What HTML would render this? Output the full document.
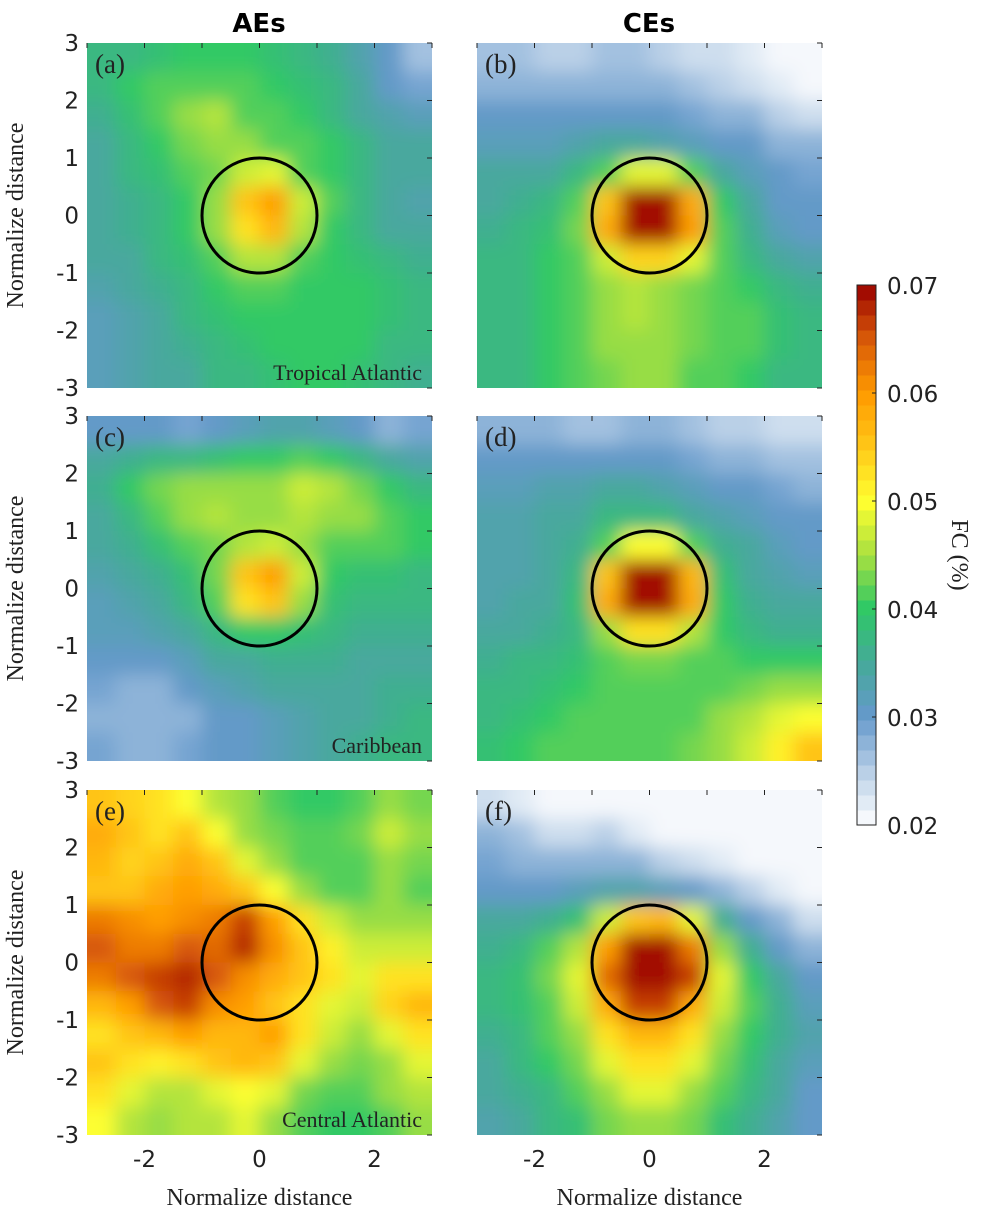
<!DOCTYPE html>
<html><head><meta charset="utf-8"><style>
body{margin:0;background:#fff;}
svg{display:block;}
.tk{font-family:"DejaVu Sans","Liberation Sans",sans-serif;font-size:23px;fill:#222;}
.sr{font-family:"Liberation Serif","DejaVu Serif",serif;fill:#222;}
</style></head><body>
<svg id="fig" width="984" height="1218" xmlns="http://www.w3.org/2000/svg">
<defs><clipPath id="cp"><rect x="0" y="0" width="345" height="345"/></clipPath>
<filter id="bl" x="-20%" y="-20%" width="140%" height="140%"><feGaussianBlur stdDeviation="9"/></filter></defs>
<text x="259" y="32" text-anchor="middle" style="font-family:'DejaVu Sans',sans-serif;font-weight:bold;font-size:26px">AEs</text>
<text x="649" y="32" text-anchor="middle" style="font-family:'DejaVu Sans',sans-serif;font-weight:bold;font-size:26px">CEs</text>
<g id="panels"></g>
<g id="cbar"></g>
</svg>
<script>
const ticks=[-3,-2,-1,0,1,2,3];
const xTickLabels=["-2","0","2"];
const cbTicks=[0.02,0.03,0.04,0.05,0.06,0.07];
const panelLabels=["(a)","(b)","(c)","(d)","(e)","(f)"];
const regionLabels=["Tropical Atlantic","","Caribbean","","Central Atlantic",""];
// values in units of 0.001 FC, 12x12 grid, rows from y=+3 to y=-3
const panelA=[
[38,38,39,40,40,40,39,38,36,33,30,26],[37,40,42,42,41,41,40,39,37,34,31,29],[36,39,41,44,46,42,41,40,38,35,33,32],[35,38,40,43,45,44,42,41,40,37,35,34],
[35,37,39,41,43,47,48,42,40,38,35,34],[35,36,38,40,45,55,59,47,41,38,34,33],[34,36,38,40,45,53,57,46,40,38,35,34],[34,35,37,39,42,46,46,42,40,39,37,36],
[33,34,36,38,40,41,41,40,40,40,39,38],[32,33,35,37,39,40,40,40,40,40,39,38],[32,33,34,36,38,39,40,40,40,40,38,37],[32,33,34,35,37,38,39,40,40,39,37,36]];
const panelB=[
[26,26,25,25,26,26,25,24,23,22,21,20],[28,28,27,27,28,28,27,26,25,24,22,21],[30,30,30,30,31,31,30,29,28,27,25,24],[32,32,32,33,34,34,33,32,31,30,28,27],
[34,34,35,37,41,48,48,41,35,32,30,29],[35,36,38,42,56,72,74,58,40,34,31,30],[36,37,39,43,58,74,74,60,41,36,32,31],[37,38,40,42,47,54,54,48,42,38,35,33],
[38,38,40,42,44,46,45,43,42,40,38,36],[38,38,40,42,44,46,45,43,42,41,39,38],[38,38,40,42,44,45,44,43,42,41,39,38],[37,38,40,42,43,44,44,42,41,40,38,37]];
const panelC=[
[31,31,30,29,31,32,33,33,32,31,28,29],[34,36,38,38,39,40,40,41,40,38,35,33],[36,40,43,45,44,44,45,47,46,43,40,38],[35,38,42,45,46,44,45,46,45,44,42,40],
[34,36,39,42,43,46,47,44,42,41,41,40],[33,34,36,39,43,55,60,47,40,39,39,38],[32,33,35,37,42,53,56,45,39,37,37,37],[32,32,33,35,38,40,40,39,37,36,36,36],
[31,30,30,32,34,35,36,36,36,35,35,35],[29,28,28,30,32,33,34,35,35,35,36,36],[28,27,27,28,30,31,32,33,34,35,36,37],[29,28,28,29,30,31,32,33,35,36,37,38]];
const panelD=[
[28,28,27,26,26,27,27,26,25,25,24,24],[30,30,30,30,30,30,30,29,28,27,26,26],[32,32,33,33,34,34,33,32,31,30,29,28],[33,33,34,35,37,38,37,35,33,32,31,30],
[33,33,34,36,41,50,50,41,36,34,32,31],[33,33,34,38,56,72,74,57,39,35,33,32],[33,34,35,39,58,74,74,58,40,36,34,34],[34,35,36,38,45,52,52,46,40,37,36,36],
[36,37,38,39,41,43,43,42,41,40,40,40],[37,38,39,40,41,42,42,42,42,43,44,45],[38,39,40,41,41,42,42,42,44,46,48,50],[39,40,41,41,42,42,42,43,45,47,51,55]];
const panelE=[
[56,54,52,50,46,44,42,40,40,42,45,43],[58,55,53,55,50,45,43,41,41,43,47,44],[57,54,56,58,55,48,45,42,41,42,45,43],[56,56,58,60,58,55,50,45,42,42,44,42],
[63,61,60,61,62,66,59,52,47,45,45,44],[65,63,63,65,64,68,61,56,51,47,47,47],[63,65,67,68,65,61,58,56,53,49,52,53],[57,59,65,66,61,59,56,52,49,47,54,57],
[53,55,57,59,57,57,59,52,47,45,49,53],[55,53,51,53,55,57,56,49,45,43,45,48],[53,48,46,46,48,50,48,43,42,42,45,46],[50,46,44,46,46,48,45,42,40,40,42,45]];
const panelF=[
[24,22,21,21,20,20,20,20,20,20,20,20],[27,26,24,24,25,22,21,20,20,20,20,20],[29,28,27,27,28,27,25,24,22,21,20,20],[31,31,31,32,33,33,32,30,28,25,22,21],
[34,34,36,39,47,55,57,48,36,31,27,24],[36,38,41,46,60,74,74,63,45,36,31,28],[37,39,43,49,64,74,74,66,49,40,34,30],[37,39,42,47,58,66,66,58,47,41,36,32],
[36,38,41,45,52,57,57,52,45,40,36,33],[35,37,40,43,49,53,53,49,43,39,35,32],[34,36,38,41,45,48,48,45,41,37,34,31],[33,35,37,39,43,45,45,43,39,36,33,30]];
const panels=[panelA,panelB,panelC,panelD,panelE,panelF];

const stops=[[0.02,[255,255,255]],[0.025,[184,207,230]],[0.03,[102,153,204]],[0.035,[69,169,154]],[0.04,[46,200,102]],[0.045,[168,224,64]],[0.05,[255,255,48]],[0.055,[255,200,24]],[0.06,[255,154,0]],[0.065,[216,90,8]],[0.07,[153,0,0]]];
const NL=36;
function color(v){
  v=Math.max(0.02,Math.min(0.07,v));
  let k=Math.min(NL-1,Math.floor((v-0.02)/0.05*NL));
  let q=0.02+(k+0.5)/NL*0.05;
  for(let i=0;i<stops.length-1;i++){
    if(q<=stops[i+1][0]){const t=(q-stops[i][0])/(stops[i+1][0]-stops[i][0]);
      const c=stops[i][1].map((a,j)=>Math.round(a+(stops[i+1][1][j]-a)*t));return `rgb(${c})`;}
  }
  return 'rgb(153,0,0)';
}
const NS="http://www.w3.org/2000/svg";
function mk(t,a,p){const e=document.createElementNS(NS,t);for(const k in a)e.setAttribute(k,a[k]);p.appendChild(e);return e;}
const W=345,H=345;
const lefts=[87,477],tops=[43,416,790];
function sx(v){return (v+3)/6*W;}
function sy(v){return (3-v)/6*H;}
const root=document.getElementById('panels');
panels.forEach((data,p)=>{
  const col=p%2,row=Math.floor(p/2);
  const g=mk('g',{transform:`translate(${lefts[col]},${tops[row]})`},root);
  
  
  const clipG=mk('g',{'clip-path':'url(#cp)'},g);
  const cg=mk('g',{filter:'url(#bl)'},clipG);
  const n=data.length,m=data[0].length;
  for(let i=-2;i<n+2;i++)for(let j=-2;j<m+2;j++){
    const v=data[Math.max(0,Math.min(n-1,i))][Math.max(0,Math.min(m-1,j))];
    const x0=sx(-3+6*j/m),y0=sy(3-6*i/n);
    const c=mk('rect',{x:x0,y:y0,width:sx(-3+6*(j+1)/m)-x0+0.6,height:sy(3-6*(i+1)/n)-y0+0.6,fill:color(v/1000)},cg);
    
    
  }
  const circ=mk('circle',{cx:sx(0),cy:sy(0),r:sx(1)-sx(0),fill:'none',stroke:'#000','stroke-width':3},g);
  
  
  ticks.forEach(t=>{
    mk('line',{x1:W,x2:W-5,y1:sy(t),y2:sy(t),stroke:'#222'},g);
    mk('line',{y1:0,y2:5,x1:sx(t),x2:sx(t),stroke:'#222'},g);
  });
  const pl=mk('text',{x:8,y:30,class:'sr','font-size':27},g);pl.textContent=panelLabels[p];
  
  
  if(regionLabels[p]){const rl=mk('text',{x:W-10,y:H-8,class:'sr','font-size':22,'text-anchor':'end'},g);rl.textContent=regionLabels[p];
    
    }
  if(col===0){
    ticks.forEach(t=>{const tl=mk('text',{x:-8,y:sy(t)+8,class:'tk','text-anchor':'end'},g);tl.textContent=String(t);
      
      });
    const yl=mk('text',{x:0,y:0,class:'sr','font-size':24,'text-anchor':'middle',transform:`translate(-64,${H/2}) rotate(-90)`},g);yl.textContent='Normalize distance';
    
    
  }
  if(row===2){
    xTickLabels.forEach(t=>{const tl=mk('text',{x:sx(+t),y:H+32,class:'tk','text-anchor':'middle'},g);tl.textContent=t;
      
      });
    const xl=mk('text',{x:W/2,y:H+70,class:'sr','font-size':24,'text-anchor':'middle'},g);xl.textContent='Normalize distance';
    
    
  }
});
const cb=document.getElementById('cbar');
const cbx=857,cbw=19,cbt=285,cbb=825;
function cy(v){return cbb-(v-0.02)/0.05*(cbb-cbt);}
for(let k=0;k<NL;k++){
  const v0=0.02+k/NL*0.05,v1=0.02+(k+1)/NL*0.05;
  const r=mk('rect',{x:cbx,y:cy(v1),width:cbw,height:cy(v0)-cy(v1)+0.5,fill:color((v0+v1)/2)},cb);
  
  
}
mk('rect',{x:cbx,y:cbt,width:cbw,height:cbb-cbt,fill:'none',stroke:'#222','stroke-width':1},cb);
cbTicks.forEach(t=>{
  mk('line',{x1:cbx+cbw,x2:cbx+cbw-4,y1:cy(t),y2:cy(t),stroke:'#222'},cb);
  const tl=mk('text',{x:887,y:cy(t)+9,class:'tk','font-size':25},cb);tl.textContent=t.toFixed(2);
  
  
});
const ct=mk('text',{x:0,y:0,class:'sr','font-size':24,'text-anchor':'middle',transform:'translate(952,555) rotate(90)'},cb);ct.textContent='FC (%)';


</script>
</body></html>
